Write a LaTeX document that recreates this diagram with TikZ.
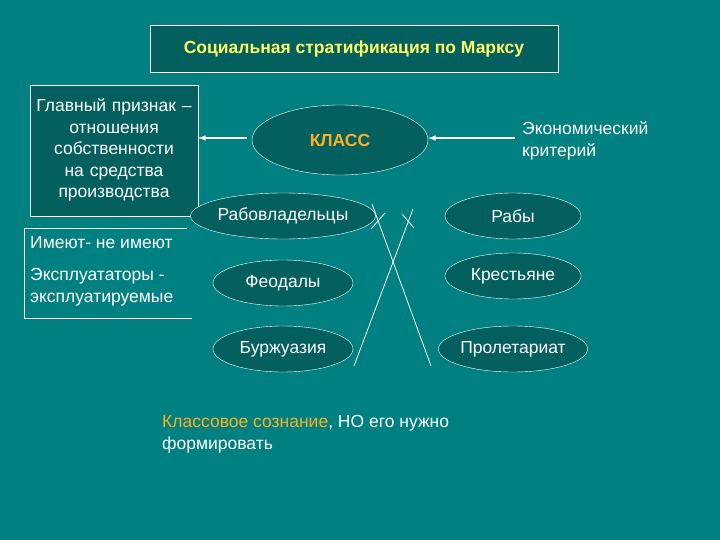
\documentclass[tikz,border=0pt]{standalone}
\usepackage{fontspec}
\setmainfont{Liberation Sans}
\usetikzlibrary{shapes.geometric}
\definecolor{bg}{HTML}{008080}
\definecolor{dk}{HTML}{03605F}
\definecolor{ttl}{HTML}{FFFF66}
\definecolor{org}{HTML}{FFB020}
\tikzset{
 ell/.style={ellipse,draw=white,fill=dk,text=white,minimum width=140pt,minimum height=46pt,inner sep=0pt,font=\fontsize{17.5}{22}\selectfont},
 txt/.style={text=white,font=\fontsize{17.5}{21.5}\selectfont,inner sep=0pt},
 ln/.style={draw=white,line width=0.8pt},
 arr/.style={draw=white,line width=1.5pt,-latex}
}
\begin{document}
\begin{tikzpicture}[x=1pt,y=-1pt]
\fill[bg] (0,0) rectangle (720,540);
\useasboundingbox (0,0) rectangle (720,540);
\node[draw=white,fill=dk,minimum width=408pt,minimum height=47pt,text=ttl,font=\bfseries\fontsize{17.5}{20}\selectfont] (title) at (354,48.5) {Социальная стратификация по Марксу};
\node[draw=white,fill=dk,minimum width=168pt,minimum height=131pt,inner sep=0pt] (b1) at (114,150.5) {};
\node[txt,align=center,text width=190pt] (b1t) at (114,150) {Главный признак –\\отношения\\собственности\\на средства\\производства};
\coordinate (c1) at (187,228); \coordinate (c2) at (24,228); \coordinate (c3) at (24,318); \coordinate (c4) at (192,318);
\draw[ln] (c1) -- (c2) -- (c3) -- (c4);
\node[txt,anchor=west] (ime) at (30,243) {Имеют- не имеют};
\node[txt,anchor=west,align=left] (eks) at (30,287) {Эксплуататоры -\\эксплуатируемые};
\node[ell,minimum width=176pt,minimum height=70pt,text=org,font=\bfseries\fontsize{17.5}{20}\selectfont] (klass) at (340,140) {КЛАСС};
\coordinate (a1) at (247,138);
\coordinate (a2) at (515,138);
\draw[arr] (a1) -- (b1.east |- a1);
\draw[arr] (a2) -- (klass.east |- a2);
\node[txt,anchor=west,align=left] (eko) at (522,141) {Экономический\\критерий};
\node[ell,minimum width=148pt] (rab) at (283,216) {Рабовладельцы};
\node[ell] (feo) at (283,283) {Феодалы};
\node[ell] (bur) at (283,349) {Буржуазия};
\node[ell,minimum width=136pt] (raby) at (513,216) {Рабы};
\node[ell,minimum width=136pt] (kre) at (513,276) {Крестьяне};
\node[ell,minimum width=136pt] (pro) at (513,349) {Пролетариат};
\coordinate (l1a) at (372,204); \coordinate (l1b) at (431,366);
\coordinate (l2a) at (413,209); \coordinate (l2b) at (354,366);
\draw[ln] (l1a) -- (l1b);
\draw[ln] (l2a) -- (l2b);
\coordinate (t1a) at (371,229); \coordinate (t1b) at (385,213);
\coordinate (t2a) at (402,214); \coordinate (t2b) at (414,228);
\draw[ln] (t1a) -- (t1b);
\draw[ln] (t2a) -- (t2b);
\node[txt,anchor=west,align=left] (bot) at (162,434) {\textcolor{org}{Классовое сознание}, НО его нужно\\формировать};
\end{tikzpicture}
\end{document}
